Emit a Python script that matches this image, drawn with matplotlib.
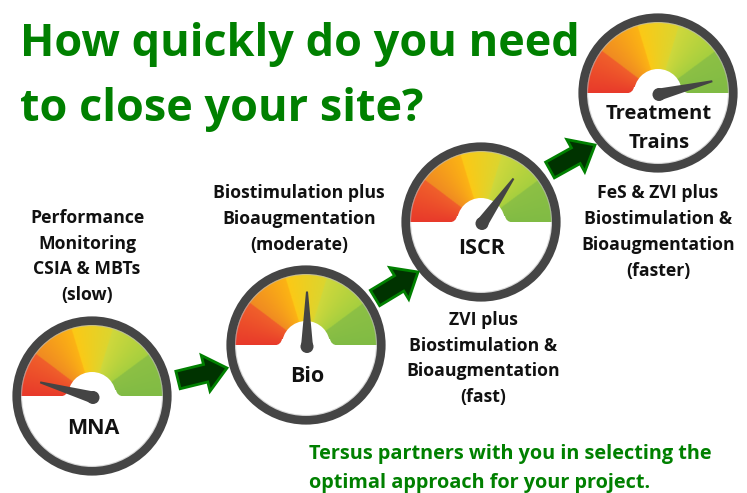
import numpy as np
import matplotlib
matplotlib.use("Agg")
import matplotlib.pyplot as plt
from matplotlib.patches import Circle, Polygon, FancyArrow, PathPatch
from matplotlib.path import Path
from matplotlib.colors import to_rgb

plt.rcParams['font.family'] = ['Open Sans', 'DejaVu Sans']

# the four gauges
gauge_names = ["MNA", "Bio", "ISCR", "Treatment\nTrains"]
needle_angles = [164, 90, 55, 14]

# captions beside the gauges
captions = [
    "Performance\nMonitoring\nCSIA & MBTs\n(slow)",
    "Biostimulation plus\nBioaugmentation\n(moderate)",
    "ZVI plus\nBiostimulation &\nBioaugmentation\n(fast)",
    "FeS & ZVI plus\nBiostimulation &\nBioaugmentation\n(faster)",
]
title_lines = ["How quickly do you need", "to close your site?"]
footer_lines = ["Tersus partners with you in selecting the",
                "optimal approach for your project."]

# dial colours, by angle from the left end to the right end
band_edges = [180, 143, 143, 107, 107, 73, 73, 36.5, 36.5, 0]
band_colors = ["#e8392b", "#f0602a", "#f08a22", "#fcb414", "#fcc916",
               "#dcd52f", "#cfd83c", "#a6cf3f", "#8dc044", "#80bb45"]


def draw_gauge(ax, cx, cy, name, angle, label_y, size):
    R = 71
    ax.add_patch(Circle((cx, cy), R, fc="white", ec="none", zorder=2))

    # dial: angle gradient clipped to the upper half
    xx, yy = np.meshgrid(np.arange(cx - R, cx + R, 0.5), np.arange(cy - R, cy, 0.5))
    th = np.degrees(np.arctan2(cy - yy, xx - cx))
    img = np.zeros(th.shape + (3,))
    for i in range(0, len(band_edges), 2):
        a0, a1 = band_edges[i], band_edges[i + 1]
        c0, c1 = np.array(to_rgb(band_colors[i])), np.array(to_rgb(band_colors[i + 1]))
        m = (th <= a0) & (th >= a1)
        t = ((a0 - th) / (a0 - a1))[m]
        img[m] = c0 + (c1 - c0) * t[:, None]
    im = ax.imshow(img, extent=(cx - R, cx + R, cy, cy - R), origin="upper",
                   aspect="auto", zorder=3, interpolation="bilinear")
    im.set_clip_path(Circle((cx, cy), R, transform=ax.transData))

    # white hub with its flared foot
    ax.add_patch(Circle((cx, cy), 24, fc="white", ec="none", zorder=4))
    foot = Path([(cx - 32, cy + 0.5), (cx - 25, cy), (cx - 24, cy - 6), (cx + 24, cy - 6),
                 (cx + 25, cy), (cx + 32, cy + 0.5), (cx - 32, cy + 0.5)],
                [Path.MOVETO, Path.CURVE3, Path.CURVE3, Path.LINETO,
                 Path.CURVE3, Path.CURVE3, Path.CLOSEPOLY])
    ax.add_patch(PathPatch(foot, fc="white", ec="none", zorder=4))

    # rim and the soft shadow inside it
    ax.add_patch(Circle((cx, cy), 71, fc="none", ec="#bbbbbb", lw=1.6, alpha=0.6, zorder=5))
    ax.add_patch(Circle((cx, cy), 75.3, fc="none", ec="#454545", lw=6.2, zorder=6))

    # needle
    a = np.radians(angle)
    ux, uy = np.cos(a), -np.sin(a)
    hx, hy = cx + 1, cy + 1.5
    ax.add_patch(Polygon([(hx - uy * 6, hy + ux * 6), (hx + ux * 55 - uy * 1, hy + uy * 55 + ux * 1),
                          (hx + ux * 55 + uy * 1, hy + uy * 55 - ux * 1), (hx + uy * 6, hy - ux * 6)],
                         fc="#444444", ec="none", zorder=7))
    ax.add_patch(Circle((hx, hy), 6.5, fc="#444444", ec="none", zorder=7))

    ax.text(cx + 1, label_y, name, ha="center", va="center", fontsize=size,
            fontweight="bold", color="#111111", linespacing=1.55, zorder=8)


fig = plt.figure(figsize=(7.47, 4.93), dpi=100)
ax = fig.add_axes([0, 0, 1, 1])

draw_gauge(ax, 92, 396, gauge_names[0], needle_angles[0], 429, 15.5)
draw_gauge(ax, 306, 345, gauge_names[1], needle_angles[1], 377, 15.5)
draw_gauge(ax, 481, 222, gauge_names[2], needle_angles[2], 249, 15.5)
draw_gauge(ax, 658, 93, gauge_names[3], needle_angles[3], 128.5, 14.5)

# arrows between gauges
for (x0, y0, x1, y1) in [(178, 380, 227, 368), (375, 298, 418, 272), (550, 170, 595, 145)]:
    ax.add_patch(FancyArrow(x0, y0, x1 - x0, y1 - y0, width=18, head_width=37, head_length=22,
                            length_includes_head=True, fc="#003300", ec="#008000", lw=2, zorder=9))

title_y = [56, 121]
for s, y in zip(title_lines, title_y):
    ax.text(20, y, s, ha="left", va="baseline", fontsize=32.4, fontweight="bold", color="#008000")

cap_x = [87, 299, 483, 658]
cap_y = [256.5, 219, 358.5, 232]
for s, x, y in zip(captions, cap_x, cap_y):
    ax.text(x, y, s, ha="center", va="center", fontsize=12.7, fontweight="bold",
            color="#111111", linespacing=1.55)

foot_y = [459, 488]
for s, y in zip(footer_lines, foot_y):
    ax.text(309, y, s, ha="left", va="baseline", fontsize=14.3, fontweight="bold", color="#008000")

ax.set_xlim(0, 747)
ax.set_ylim(493, 0)
ax.axis("off")
fig.savefig("out.png", dpi=100, facecolor="white")
